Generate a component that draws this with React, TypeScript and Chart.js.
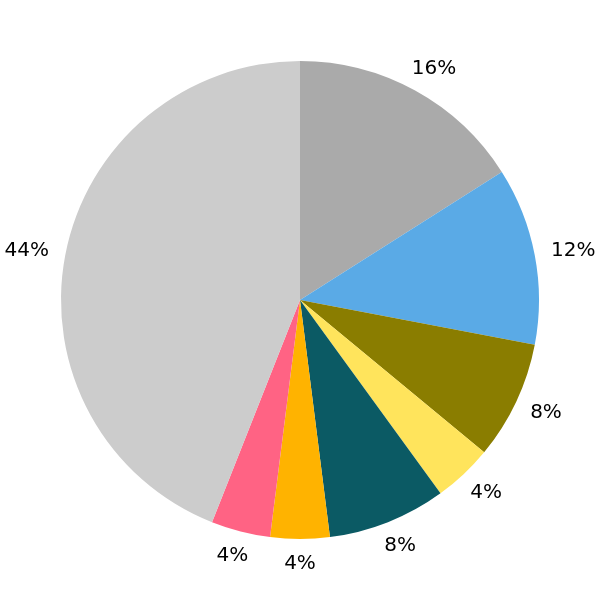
import React, { useEffect, useRef } from "react";
import { Chart, registerables } from "chart.js";

Chart.register(...registerables);

const categories = ["A", "B", "C", "D", "E", "F", "G", "H"];
const values = [16, 12, 8, 4, 8, 4, 4, 44];
const colors = ["#aaaaaa", "#5aaae6", "#8a7d00", "#ffe45c", "#0b5a64", "#ffb300", "#ff6384", "#cccccc"];

const labelPlugin = {
  id: "outerLabels",
  afterDatasetsDraw(chart: any) {
    const ctx = chart.ctx;
    const meta = chart.getDatasetMeta(0);
    const data = chart.data.datasets[0].data as number[];
    const total = data.reduce((a, b) => a + b, 0);
    ctx.save();
    ctx.font = "20px 'DejaVu Sans'";
    ctx.fillStyle = "#000";
    ctx.textAlign = "center";
    ctx.textBaseline = "middle";
    meta.data.forEach((arc: any, i: number) => {
      const { x, y, startAngle, endAngle, outerRadius } = arc.getProps(
        ["x", "y", "startAngle", "endAngle", "outerRadius"],
        true
      );
      const mid = (startAngle + endAngle) / 2;
      const dx = Math.cos(mid);
      const dy = Math.sin(mid);
      const text = Math.round((data[i] / total) * 100) + "%";
      const w = ctx.measureText(text).width;
      const h = 16;
      const off = 17;
      const cx = x + dx * (outerRadius + off) + dx * (w / 2);
      const cy = y + dy * (outerRadius + off) + dy * (h / 2);
      ctx.fillText(text, cx, cy);
    });
    ctx.restore();
  },
};

export default function App() {
  const ref = useRef<HTMLCanvasElement>(null);
  useEffect(() => {
    if (!ref.current) return;
    const chart = new Chart(ref.current, {
      type: "pie",
      data: {
        labels: categories,
        datasets: [
          {
            data: values,
            backgroundColor: colors,
            borderWidth: 0,
          },
        ],
      },
      options: {
        animation: false,
        responsive: false,
        layout: { padding: { left: 61, right: 61, top: 61, bottom: 61 } },
        plugins: {
          legend: { display: false },
          tooltip: { enabled: false },
        },
      },
      plugins: [labelPlugin],
    });
    return () => chart.destroy();
  }, []);
  return (
    <div style={{ position: "absolute", left: 0, top: 0, width: 600, height: 600, background: "#fff" }}>
      <canvas ref={ref} width={600} height={600} />
    </div>
  );
}
